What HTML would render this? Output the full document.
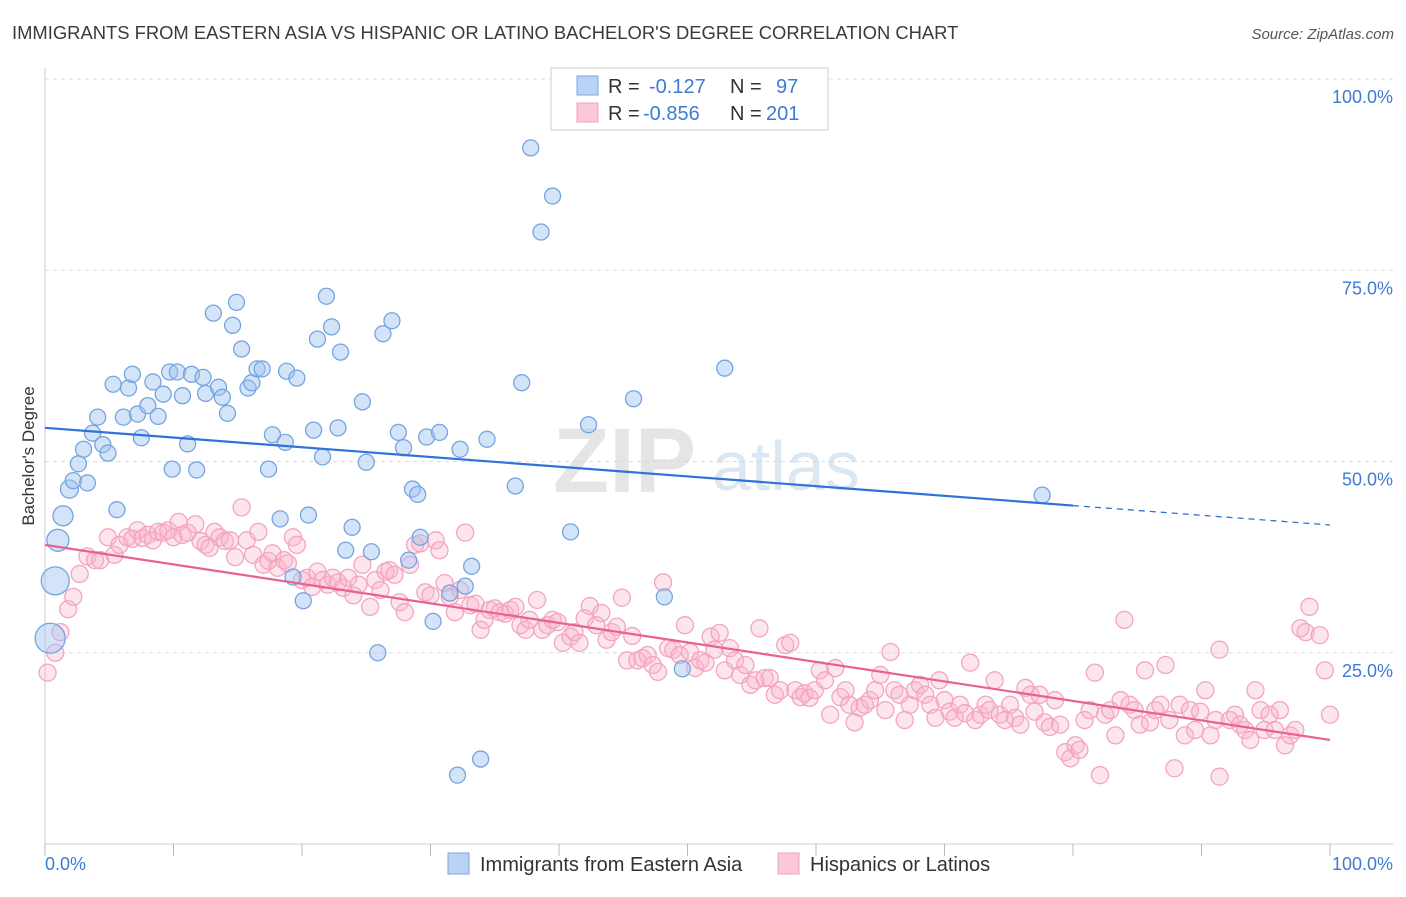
<!DOCTYPE html>
<html><head><meta charset="utf-8"><style>
body{margin:0;background:#fff;font-family:"Liberation Sans",sans-serif;}
svg text{font-family:"Liberation Sans",sans-serif;}
</style></head><body>
<svg id="chart" width="1406" height="892" viewBox="0 0 1406 892" xmlns="http://www.w3.org/2000/svg">
<text x="12" y="39" font-size="18.4" fill="#3a3a3a">IMMIGRANTS FROM EASTERN ASIA VS HISPANIC OR LATINO BACHELOR'S DEGREE CORRELATION CHART</text>
<text x="1394" y="39" font-size="15" fill="#555" font-style="italic" text-anchor="end">Source: ZipAtlas.com</text>
<g id="grid"></g>
<g opacity="0.6">
<text x="553" y="492" font-size="92" fill="#d5d5d5" font-family="Liberation Serif" font-weight="bold">ZIP</text>
<text x="712" y="490" font-size="70" fill="#c5d8ee">atlas</text>
</g>
<g id="axes"></g>
<g id="pink"></g>
<g id="blue"></g>
<g id="trends"></g>
<text transform="translate(34,456) rotate(-90)" font-size="17" fill="#333" text-anchor="middle">Bachelor's Degree</text>
<g>
<rect x="551" y="68" width="277" height="62" fill="#fff" stroke="#ddd" stroke-width="1.5"/>
<rect x="577" y="76" width="21" height="19" fill="#b9d3f5" stroke="#7aa7e0"/>
<rect x="577" y="103" width="21" height="19" fill="#fcc8d8" stroke="#f0a0bc"/>
<text x="608" y="93" font-size="20" fill="#333">R =</text>
<text x="649" y="93" font-size="20" fill="#3d7bd6">-0.127</text>
<text x="730" y="93" font-size="20" fill="#333">N =</text>
<text x="776" y="93" font-size="20" fill="#3d7bd6">97</text>
<text x="608" y="120" font-size="20" fill="#333">R =</text>
<text x="643" y="120" font-size="20" fill="#3d7bd6">-0.856</text>
<text x="730" y="120" font-size="20" fill="#333">N =</text>
<text x="766" y="120" font-size="20" fill="#3d7bd6">201</text>
</g>
<g>
<rect x="448" y="853" width="21" height="21" fill="#b9d3f5" stroke="#7aa7e0"/>
<text x="480" y="871" font-size="20" fill="#333">Immigrants from Eastern Asia</text>
<rect x="778" y="853" width="21" height="21" fill="#fcc8d8" stroke="#f0a0bc"/>
<text x="810" y="871" font-size="20" fill="#333">Hispanics or Latinos</text>
</g>
</svg>
<script>
const blueX=[0.8,0.4,1.0,1.4,1.9,3.3,2.2,2.6,3.0,3.7,4.1,4.5,4.9,5.3,5.6,6.1,6.5,6.8,7.2,7.5,8.0,8.4,8.8,9.2,9.7,9.9,10.3,10.7,11.1,11.4,11.8,12.3,12.5,13.1,13.5,13.8,14.2,14.6,14.9,15.3,15.8,16.1,16.5,16.9,17.4,17.7,18.3,18.7,18.8,19.3,19.6,20.1,20.5,20.9,21.2,21.6,21.9,22.3,22.8,23.0,23.4,23.9,24.7,25.0,25.4,25.9,26.3,27.0,27.5,27.9,28.3,28.6,29.0,29.2,29.7,30.2,30.7,31.5,32.1,32.3,32.7,33.2,33.9,34.4,36.6,37.1,37.8,38.6,39.5,40.9,42.3,45.8,48.2,49.6,52.9,77.6];
const blueY=[34.4,26.9,39.7,42.9,46.4,47.2,47.5,49.7,51.6,53.7,55.8,52.2,51.1,60.1,43.7,55.8,59.6,61.4,56.2,53.1,57.3,60.4,55.9,58.8,61.7,49.0,61.7,58.6,52.3,61.4,48.9,61.0,58.9,69.4,59.7,58.4,56.3,67.8,70.8,64.7,59.6,60.3,62.1,62.1,49.0,53.5,42.5,52.5,61.8,34.9,60.9,31.8,43.0,54.1,66.0,50.6,71.6,67.6,54.4,64.3,38.4,41.4,57.8,49.9,38.2,25.0,66.7,68.4,53.8,51.8,37.1,46.4,45.7,40.1,53.2,29.1,53.8,32.8,9.0,51.6,33.7,36.3,11.1,52.9,46.8,60.3,91.0,80.0,84.7,40.8,54.8,58.2,32.3,22.9,62.2,45.6];
const blueSize=[14,15,11,10,9,8,8,8,8,8,8,8,8,8,8,8,8,8,8,8,8,8,8,8,8,8,8,8,8,8,8,8,8,8,8,8,8,8,8,8,8,8,8,8,8,8,8,8,8,8,8,8,8,8,8,8,8,8,8,8,8,8,8,8,8,8,8,8,8,8,8,8,8,8,8,8,8,8,8,8,8,8,8,8,8,8,8,8,8,8,8,8,8,8,8,8,8];
const pinkX=[0.2,0.8,1.2,1.8,2.2,2.7,3.3,3.9,4.3,4.9,5.4,5.8,6.4,6.8,7.2,7.6,8.0,8.4,8.8,9.2,9.6,10.0,10.4,10.7,11.1,11.7,12.1,12.5,12.8,13.2,13.6,14.0,14.4,14.8,15.3,15.7,16.2,16.6,17.0,17.4,17.7,18.1,18.6,18.9,19.3,19.6,20.0,20.4,20.8,21.2,21.6,22.0,22.4,22.8,23.2,23.6,24.0,24.4,24.7,25.3,25.7,26.1,26.5,26.8,27.2,27.6,28.0,28.4,28.8,29.2,29.6,30.0,30.4,30.7,31.1,31.5,31.9,32.3,32.7,33.1,33.5,33.9,34.2,34.6,35.0,35.4,35.8,36.2,36.6,37.0,37.4,37.7,38.3,38.7,39.1,39.5,39.9,40.3,40.9,41.2,41.6,42.0,42.4,42.9,43.3,43.7,44.1,44.5,44.9,45.3,45.7,46.1,46.5,46.9,47.3,47.7,48.1,48.5,48.9,49.4,49.8,50.2,50.6,51.0,51.4,51.8,52.1,52.5,52.9,53.3,53.7,54.1,54.5,54.9,55.3,55.6,56.0,56.4,56.8,57.2,57.6,58.0,58.4,58.8,59.1,59.5,59.9,60.3,60.7,61.1,61.5,61.9,62.3,62.6,63.0,63.4,63.8,64.2,64.6,65.0,65.4,65.8,66.1,66.5,66.9,67.3,67.7,68.1,68.5,68.9,69.3,69.6,70.0,70.4,70.8,71.2,71.6,72.0,72.4,72.8,73.2,73.5,73.9,74.3,74.7,75.1,75.5,75.9,76.3,76.7,77.0,77.4,77.8,78.2,78.6,79.0,79.4,79.8,80.2,80.5,80.9,81.3,81.7,82.1,82.5,82.9,83.3,83.7,84.0,84.4,84.8,85.2,85.6,86.0,86.4,86.8,87.2,87.5,87.9,88.3,88.7,89.1,89.5,89.9,90.3,90.7,91.1,91.4,91.4,92.2,92.6,93.0,93.4,93.8,94.2,94.6,94.9,95.3,95.7,96.1,96.5,96.9,97.3,97.7,98.1,98.4,99.2,99.6,100.0];
const pinkY=[22.4,25.0,27.7,30.7,32.3,35.3,37.6,37.1,37.1,40.1,37.8,39.1,40.1,39.9,41.0,40.0,40.4,39.7,40.8,40.7,41.0,40.1,42.1,40.4,40.7,41.8,39.6,39.1,38.7,40.8,40.1,39.6,39.7,37.5,44.0,39.7,37.8,40.8,36.5,37.0,38.0,36.1,37.1,36.7,40.1,39.1,34.5,34.8,33.6,35.6,34.5,33.9,34.8,34.2,33.5,34.8,32.5,33.9,36.5,31.0,34.5,33.2,35.6,35.8,35.2,31.6,30.3,36.5,39.1,39.3,32.9,32.5,39.7,38.4,34.1,32.3,30.3,33.2,40.7,31.2,31.4,28.0,29.3,30.6,30.8,30.3,30.1,30.6,31.0,28.6,28.0,29.3,31.9,28.0,28.6,29.3,29.0,26.3,27.1,27.7,26.3,29.5,31.1,28.6,30.2,26.7,27.7,28.4,32.2,24.0,27.2,24.0,24.3,24.7,23.4,22.5,34.2,25.6,25.4,24.7,28.6,25.1,23.0,24.0,23.7,27.1,25.4,27.6,22.7,25.6,24.0,22.1,23.4,20.8,21.4,28.2,21.7,21.7,19.5,20.1,26.0,26.3,20.1,19.2,19.7,19.1,20.1,22.7,21.4,16.9,23.0,19.2,20.1,18.2,15.9,17.8,18.2,18.8,20.1,22.1,17.5,25.1,20.1,19.5,16.2,18.2,20.1,20.8,19.5,18.2,16.5,21.4,18.8,17.3,16.5,18.2,17.1,23.7,16.2,16.9,18.2,17.5,21.4,16.9,16.2,18.2,16.5,15.6,20.4,19.5,17.3,19.5,15.9,15.3,18.8,15.6,12.0,11.2,12.9,12.3,16.2,17.5,22.4,9.0,16.9,17.5,14.2,18.8,29.3,18.2,17.5,15.6,22.7,15.9,17.5,18.2,23.4,16.2,9.9,18.2,14.2,17.5,14.9,17.3,20.1,14.2,16.2,25.4,8.8,16.2,16.9,15.6,14.9,13.6,20.1,17.5,14.9,16.9,14.9,17.5,12.9,14.2,14.9,28.2,27.7,31.0,27.3,22.7,16.9];
const blueTrend=[54.4,41.7];
const pinkTrend=[39.1,13.6];
const blueSolidEnd=80;
const yTicks=[100,75,50,25];
const xTicks=[0,10,20,30,40,50,60,70,80,90,100];

const NS='http://www.w3.org/2000/svg';
const X=v=>45+v*12.85;
const Y=v=>844-v*7.65;
function mk(tag,attrs,parent){const e=document.createElementNS(NS,tag);for(const k in attrs)e.setAttribute(k,attrs[k]);parent.appendChild(e);return e;}
const grid=document.getElementById('grid'),axes=document.getElementById('axes');
yTicks.forEach(t=>{
  const l=mk('line',{x1:45,x2:1393,y1:Y(t),y2:Y(t),stroke:'#dcdcdc','stroke-dasharray':'4,4'},grid);
  
  
  const tx=mk('text',{x:1393,y:Y(t)+24,'font-size':18,fill:'#3d7bd6','text-anchor':'end'},axes);
  tx.textContent=t.toFixed(1)+'%';
  
  
});
const ya=mk('line',{x1:45,x2:45,y1:68,y2:844,stroke:'#ccc'},axes);


const xa=mk('line',{x1:45,x2:1393,y1:844,y2:844,stroke:'#ccc'},axes);


xTicks.forEach(t=>{
  const l=mk('line',{x1:X(t),x2:X(t),y1:844,y2:856,stroke:'#bbb'},axes);
  
  
});
const xl0=mk('text',{x:45,y:870,'font-size':18,fill:'#3d7bd6'},axes);xl0.textContent=xTicks[0].toFixed(1)+'%';


const xl1=mk('text',{x:1393,y:870,'font-size':18,fill:'#3d7bd6','text-anchor':'end'},axes);xl1.textContent=xTicks[xTicks.length-1].toFixed(1)+'%';



const pg=document.getElementById('pink');
pinkX.forEach((v,i)=>{
  const c=mk('circle',{cx:X(v),cy:Y(pinkY[i]),r:8.5,fill:'rgba(249,180,202,0.35)',stroke:'#f3a5c0','stroke-width':1.3},pg);
  
  
});
const bg=document.getElementById('blue');
blueX.forEach((v,i)=>{
  const c=mk('circle',{cx:X(v),cy:Y(blueY[i]),r:blueSize[i],fill:'rgba(160,196,240,0.45)',stroke:'#76a4e0','stroke-width':1.3},bg);
  
  
});
const tg=document.getElementById('trends');
const bAt=x=>blueTrend[0]+(blueTrend[1]-blueTrend[0])*x/100;
const b1=mk('line',{x1:X(0),y1:Y(bAt(0)),x2:X(blueSolidEnd),y2:Y(bAt(blueSolidEnd)),stroke:'#2f72d8','stroke-width':2.2},tg);


const b2=mk('line',{x1:X(blueSolidEnd),y1:Y(bAt(blueSolidEnd)),x2:X(100),y2:Y(bAt(100)),stroke:'#2f72d8','stroke-width':1.3,'stroke-dasharray':'6,5'},tg);


const p1=mk('line',{x1:X(0),y1:Y(pinkTrend[0]),x2:X(100),y2:Y(pinkTrend[1]),stroke:'#e8628f','stroke-width':2.2},tg);


</script>
</body></html>
